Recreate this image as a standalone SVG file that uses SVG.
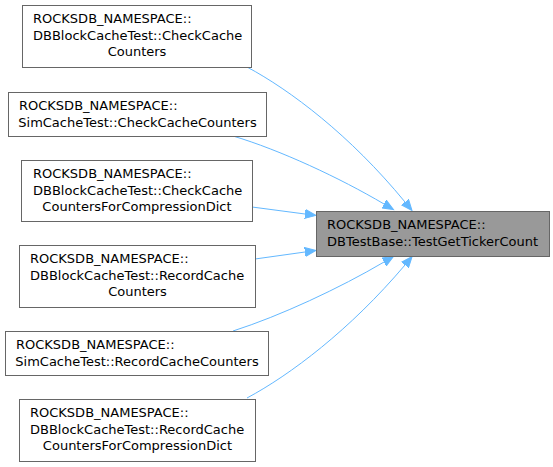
<svg xmlns="http://www.w3.org/2000/svg" width="553" height="467" viewBox="0 0 553 467">
<style>
.box{fill:#ffffff;stroke:#666666;stroke-width:1}
.main{fill:#999999;stroke:#666666;stroke-width:1}
text{font-family:"DejaVu Sans",sans-serif;font-size:13px;fill:#000000}
.e{fill:none;stroke:#63b8ff;stroke-width:1}
</style>
<defs>
<marker id="ah" markerUnits="userSpaceOnUse" markerWidth="14" markerHeight="10" refX="0" refY="5" orient="auto" viewBox="0 0 14 10">
<polygon points="0,0.5 11,5 0,9.5" fill="#63b8ff" stroke="#63b8ff"/>
</marker>
</defs>
<rect width="553" height="467" fill="#ffffff"/>
<g id="connectors">
<path class="e" marker-end="url(#ah)" d="M247,67 C290,90 350,135 405,202"/>
<path class="e" marker-end="url(#ah)" d="M233,136 C280,150 340,178 384,204"/>
<path class="e" marker-end="url(#ah)" d="M252,207 L305,214"/>
<path class="e" marker-end="url(#ah)" d="M255,259 L305,252"/>
<path class="e" marker-end="url(#ah)" d="M233,331 C280,316 340,288 384,262"/>
<path class="e" marker-end="url(#ah)" d="M247,398 C290,375 350,330 405,265"/>
</g>
<g id="main">
<rect class="main" x="316.5" y="211.5" width="233" height="45"/>
<text x="327" y="229">ROCKSDB_NAMESPACE::</text>
<text x="327" y="245.5">DBTestBase::TestGetTickerCount</text>
</g>
<g id="n1">
<rect class="box" x="22.5" y="5.5" width="229" height="62"/>
<text x="33" y="23">ROCKSDB_NAMESPACE::</text>
<text x="33" y="39.5">DBBlockCacheTest::CheckCache</text>
<text x="137" y="56" text-anchor="middle">Counters</text>
</g>
<g id="n2">
<rect class="box" x="8.5" y="92.5" width="258" height="44"/>
<text x="19" y="110">ROCKSDB_NAMESPACE::</text>
<text x="137.5" y="126.5" text-anchor="middle">SimCacheTest::CheckCacheCounters</text>
</g>
<g id="n3">
<rect class="box" x="21.5" y="160.5" width="231" height="61"/>
<text x="33" y="178">ROCKSDB_NAMESPACE::</text>
<text x="33" y="194.5">DBBlockCacheTest::CheckCache</text>
<text x="137" y="211" text-anchor="middle">CountersForCompressionDict</text>
</g>
<g id="n4">
<rect class="box" x="19.5" y="245.5" width="236" height="62"/>
<text x="30" y="263">ROCKSDB_NAMESPACE::</text>
<text x="30" y="279.5">DBBlockCacheTest::RecordCache</text>
<text x="137.5" y="296" text-anchor="middle">Counters</text>
</g>
<g id="n5">
<rect class="box" x="5.5" y="331.5" width="263" height="44"/>
<text x="16" y="349">ROCKSDB_NAMESPACE::</text>
<text x="137" y="365.5" text-anchor="middle">SimCacheTest::RecordCacheCounters</text>
</g>
<g id="n6">
<rect class="box" x="19.5" y="399.5" width="236" height="62"/>
<text x="30" y="417">ROCKSDB_NAMESPACE::</text>
<text x="30" y="433.5">DBBlockCacheTest::RecordCache</text>
<text x="137.5" y="450" text-anchor="middle">CountersForCompressionDict</text>
</g>
</svg>
